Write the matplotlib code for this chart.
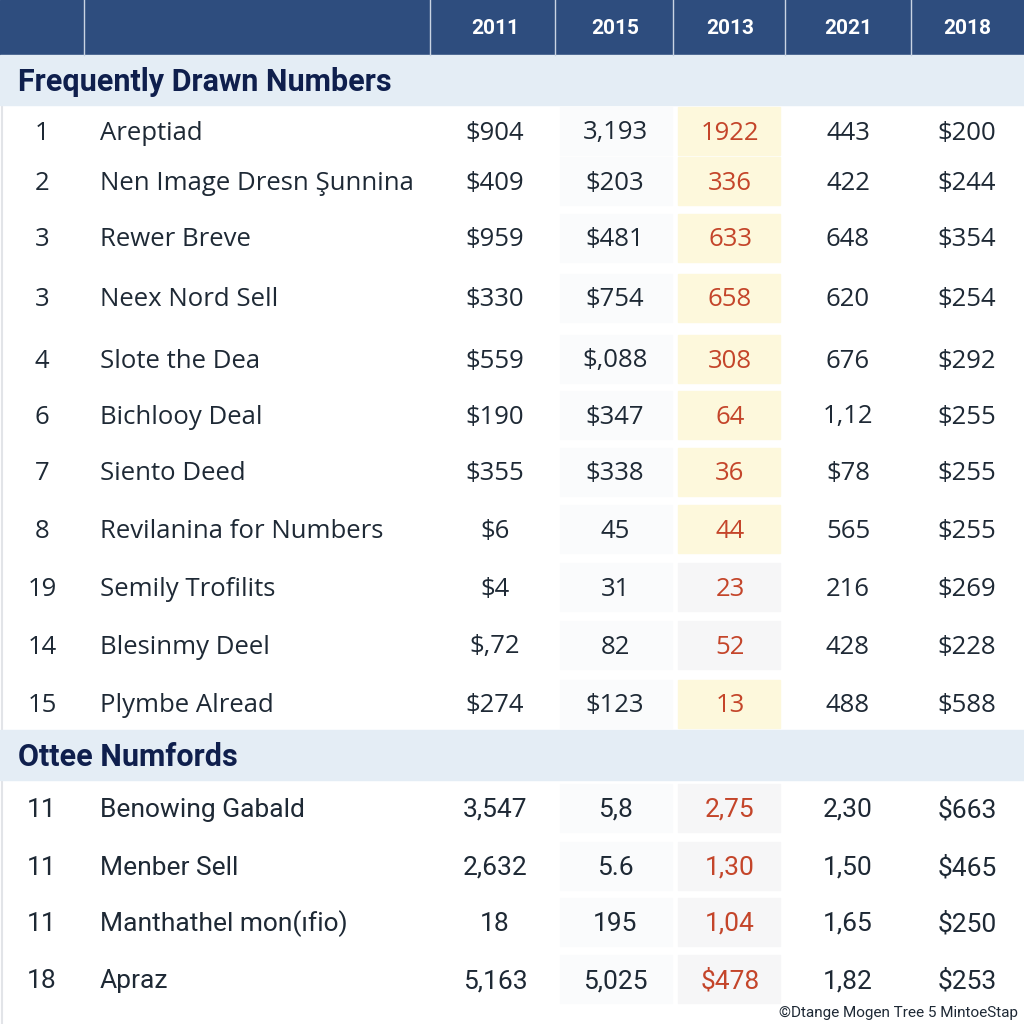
import matplotlib.pyplot as plt
from matplotlib.patches import Rectangle

years = ['2011', '2015', '2013', '2021', '2018']

# Section 1: Frequently Drawn Numbers
ranks1 = ['1', '2', '3', '3', '4', '6', '7', '8', '19', '14', '15']
names1 = ['Areptiad', 'Nen Image Dresn Şunnina', 'Rewer Breve', 'Neex Nord Sell',
          'Slote the Dea', 'Bichlooy Deal', 'Siento Deed', 'Revilanina for Numbers',
          'Semily Trofilits', 'Blesinmy Deel', 'Plymbe Alread']
v2011_1 = ['$904', '$409', '$959', '$330', '$559', '$190', '$355', '$6', '$4', '$,72', '$274']
v2015_1 = ['3,193', '$203', '$481', '$754', '$,088', '$347', '$338', '45', '31', '82', '$123']
v2013_1 = ['1922', '336', '633', '658', '308', '64', '36', '44', '23', '52', '13']
v2021_1 = ['443', '422', '648', '620', '676', '1,12', '$78', '565', '216', '428', '488']
v2018_1 = ['$200', '$244', '$354', '$254', '$292', '$255', '$255', '$255', '$269', '$228', '$588']
hilite1 = [1, 1, 1, 1, 1, 1, 1, 1, 0, 0, 1]

# Section 2: Ottee Numfords
ranks2 = ['11', '11', '11', '18']
names2 = ['Benowing Gabald', 'Menber Sell', 'Manthathel mon(ıfio)', 'Apraz']
v2011_2 = ['3,547', '2,632', '18', '5,163']
v2015_2 = ['5,8', '5.6', '195', '5,025']
v2013_2 = ['2,75', '1,30', '1,04', '$478']
v2021_2 = ['2,30', '1,50', '1,65', '1,82']
v2018_2 = ['$663', '$465', '$250', '$253']
hilite2 = [0, 0, 0, 0]

# layout (pixel units)
rows_y1 = [131, 181, 238, 298, 359, 415, 472, 529, 587, 645, 704]
rows_y2 = [808, 866, 922, 979]
col_x = [495, 615, 730, 848, 967]
sep_x = [84, 430, 555, 673, 785, 911]

HEADER = '#2e4d7e'
BAND = '#e4edf5'
TXT = '#1e2935'
RED = '#c4452a'
NAVY = '#0f1f4d'
YELLOW = '#fdf8dc'
GREY = '#f6f6f7'
FAINT = '#fafbfc'

fig = plt.figure(figsize=(10.24, 10.24), dpi=100)
ax = fig.add_axes([0, 0, 1, 1])
ax.set_xlim(0, 1024)
ax.set_ylim(1024, 0)
ax.axis('off')

# header bar
ax.add_patch(Rectangle((0, 0), 1024, 55, color=HEADER, zorder=1))
for x in sep_x:
    ax.plot([x, x], [0, 55], color='#c9d4e3', lw=1, zorder=2)
for x, y in zip(col_x, years):
    ax.text(x, 28, y, ha='center', va='center', color='white',
            fontsize=15, fontweight='bold', family='Roboto', zorder=3)

# left border line
ax.plot([2, 2], [55, 1024], color='#e2e4e8', lw=1.5, zorder=0)


def section(title, top, tsize, ranks, names, cols, rows_y, hil, font, fsize):
    ax.add_patch(Rectangle((0, top), 1024, 50, color=BAND, zorder=1))
    ax.text(18, top + 27, title, ha='left', va='center', color=NAVY,
            fontsize=tsize, fontweight='bold', family='Roboto', zorder=3)
    for i, y in enumerate(rows_y):
        # faint cell backgrounds
        ax.add_patch(Rectangle((560, y - 24), 112, 48, color=FAINT, zorder=1))
        ax.add_patch(Rectangle((678, y - 24), 102, 48,
                               color=YELLOW if hil[i] else GREY, zorder=1))
        ty = y + 2
        ax.text(42, ty, ranks[i], ha='center', va='center', color=TXT,
                fontsize=fsize, family=font, zorder=3)
        ax.text(100, ty, names[i], ha='left', va='center', color=TXT,
                fontsize=fsize, family=font, zorder=3)
        for j, x in enumerate(col_x):
            ax.text(x, ty, cols[j][i], ha='center', va='center',
                    color=RED if j == 2 else TXT,
                    fontsize=fsize, family=font, zorder=3)


section('Frequently Drawn Numbers', 55, 22, ranks1, names1,
        [v2011_1, v2015_1, v2013_1, v2021_1, v2018_1], rows_y1, hilite1,
        'Open Sans', 18.5)
section('Ottee Numfords', 730, 22, ranks2, names2,
        [v2011_2, v2015_2, v2013_2, v2021_2, v2018_2], rows_y2, hilite2,
        'Roboto', 19)

ax.text(1018, 1013, '©Dtange Mogen Tree 5 MintoeStap', ha='right', va='center',
        color=TXT, fontsize=11, family='Roboto', zorder=3)

fig.savefig('out.png', dpi=100)
